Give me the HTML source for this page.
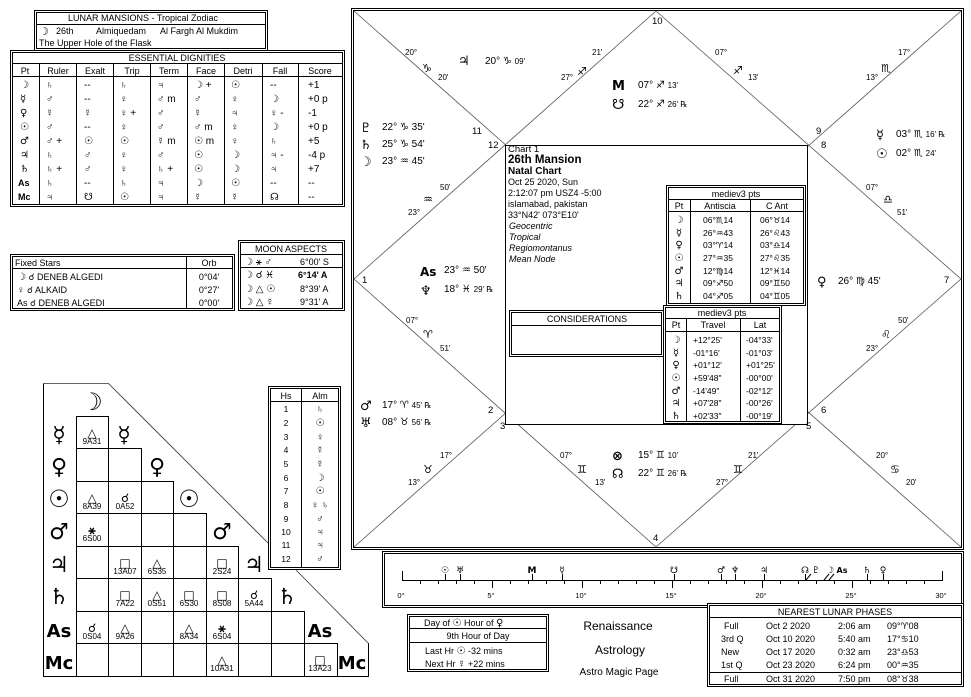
<!DOCTYPE html>
<html><head><meta charset="utf-8"><style>
body{margin:0;background:#fff;width:971px;height:697px;overflow:hidden}
svg{position:absolute;left:0;top:0;font-size:9.5px;font-family:"Liberation Sans","DejaVu Sans",sans-serif}
text{fill:#000}
.b{font-weight:bold}
.g{font-family:"DejaVu Sans",sans-serif;font-weight:bold}
.s{font-size:8px}
.o{fill:#c07020;font-size:7.5px}
</style></head><body>
<svg width="971" height="697" viewBox="0 0 971 697" stroke="#000" fill="none" stroke-width="1">
<!-- ===== Chart frame ===== -->
<rect x="351.5" y="8.5" width="612" height="541" stroke-width="1"/>
<rect x="353.5" y="10.5" width="608" height="537"/>
<g stroke="#555" stroke-width="0.8">
<line x1="354" y1="11" x2="961" y2="547"/>
<line x1="961" y1="11" x2="354" y2="547"/>
<polyline points="656,11 961,279 656,547 354,279 656,11"/>
</g>
<rect x="505.5" y="145.5" width="302" height="279" fill="#fff"/>
<g stroke="none" fill="#000">
<text x="652" y="24">10</text><text x="472" y="134">11</text><text x="488" y="148">12</text>
<text x="816" y="134">9</text><text x="821" y="148">8</text><text x="362" y="283">1</text><text x="944" y="283">7</text>
<text x="488" y="413">2</text><text x="500" y="429">3</text><text x="821" y="413">6</text><text x="806" y="429">5</text><text x="653" y="541">4</text>
<text x="405" y="55" class="s">20°</text><text x="422" y="72" font-size="11">♑</text><text x="438" y="80" class="s">20'</text>
<text x="458" y="65" class="g" font-size="13">♃</text><text x="485" y="64" font-size="10">20° ♑ <tspan class="s">09'</tspan></text>
<text x="592" y="55" class="s">21'</text><text x="577" y="75" font-size="11">♐</text><text x="561" y="80" class="s">27°</text>
<text x="612" y="90" class="g" font-size="13">M</text><text x="638" y="88" font-size="10">07°  ♐  <tspan class="s">13'</tspan></text>
<text x="612" y="109" class="g" font-size="14">☋</text><text x="638" y="107" font-size="10">22°  ♐  <tspan class="s">26' ℞</tspan></text>
<text x="715" y="55" class="s">07°</text><text x="733" y="74" font-size="11">♐</text><text x="748" y="80" class="s">13'</text>
<text x="898" y="55" class="s">17°</text><text x="881" y="72" font-size="11">♏</text><text x="866" y="80" class="s">13°</text>
<text x="360" y="132" class="g" font-size="13">♇</text><text x="382" y="130" font-size="10">22° ♑ 35'</text>
<text x="360" y="149" class="g" font-size="13">♄</text><text x="382" y="147" font-size="10">25° ♑ 54'</text>
<text x="360" y="166" class="g" font-size="13">☽</text><text x="382" y="164" font-size="10">23° ♒ 45'</text>
<text x="440" y="190" class="s">50'</text><text x="423" y="203" font-size="11">♒</text><text x="408" y="215" class="s">23°</text>
<text x="876" y="139" class="g" font-size="13">☿</text><text x="896" y="137" font-size="10">03° ♏ <tspan class="s">16' ℞</tspan></text>
<text x="876" y="158" class="g" font-size="13">☉</text><text x="896" y="156" font-size="10">02° ♏ <tspan class="s">24'</tspan></text>
<text x="866" y="190" class="s">07°</text><text x="883" y="203" font-size="11">♎</text><text x="897" y="215" class="s">51'</text>
<text x="420" y="276" class="g" font-size="12">As</text><text x="444" y="273" font-size="10">23° ♒ 50'</text>
<text x="420" y="295" class="g" font-size="13">♆</text><text x="444" y="292" font-size="10">18° ♓ <tspan class="s">29' ℞</tspan></text>
<text x="817" y="286" class="g" font-size="13">♀</text><text x="838" y="284" font-size="10">26° ♍ 45'</text>
<text x="406" y="323" class="s">07°</text><text x="423" y="338" font-size="11">♈</text><text x="440" y="351" class="s">51'</text>
<text x="898" y="323" class="s">50'</text><text x="881" y="338" font-size="11">♌</text><text x="866" y="351" class="s">23°</text>
<text x="360" y="410" class="g" font-size="13">♂</text><text x="382" y="408" font-size="10">17° ♈ <tspan class="s">45' ℞</tspan></text>
<text x="360" y="427" class="g" font-size="13">♅</text><text x="382" y="425" font-size="10">08° ♉ <tspan class="s">56' ℞</tspan></text>
<text x="440" y="458" class="s">17°</text><text x="423" y="473" font-size="11">♉</text><text x="408" y="485" class="s">13°</text>
<text x="560" y="458" class="s">07°</text><text x="577" y="473" font-size="11">♊</text><text x="595" y="485" class="s">13'</text>
<text x="612" y="460" class="g" font-size="13">⊗</text><text x="638" y="458" font-size="10">15°  ♊  <tspan class="s">10'</tspan></text>
<text x="612" y="478" class="g" font-size="13">☊</text><text x="638" y="476" font-size="10">22°  ♊  <tspan class="s">26' ℞</tspan></text>
<text x="748" y="458" class="s">21'</text><text x="733" y="473" font-size="11">♊</text><text x="716" y="485" class="s">27°</text>
<text x="876" y="458" class="s">20°</text><text x="890" y="473" font-size="11">♋</text><text x="906" y="485" class="s">20'</text>
<text x="508" y="152">Chart 1</text>
<text x="508" y="163" class="b" font-size="11.5">26th Mansion</text>
<text x="508" y="174" class="b" font-size="10">Natal Chart</text>
<text x="508" y="185" font-size="9">Oct 25 2020, Sun</text>
<text x="508" y="196" font-size="9">2:12:07 pm  USZ4 -5:00</text>
<text x="508" y="207" font-size="9">islamabad, pakistan</text>
<text x="508" y="218" font-size="9">33°N42' 073°E10'</text>
<text x="509" y="229" font-size="9" font-style="italic">Geocentric</text>
<text x="509" y="240" font-size="9" font-style="italic">Tropical</text>
<text x="509" y="251" font-size="9" font-style="italic">Regiomontanus</text>
<text x="509" y="262" font-size="9" font-style="italic">Mean Node</text>
</g>
<!-- antiscia table -->
<rect x="666.5" y="185.5" width="139" height="120" fill="#fff"/><rect x="668.5" y="187.5" width="135" height="116"/>
<line x1="668" y1="199.5" x2="804" y2="199.5"/><line x1="668" y1="211.5" x2="804" y2="211.5"/>
<line x1="690.5" y1="200" x2="690.5" y2="304"/><line x1="750.5" y1="200" x2="750.5" y2="304"/>
<g stroke="none" fill="#000" font-size="9">
<text x="736" y="197" text-anchor="middle">mediev3 pts</text>
<text x="679" y="209" text-anchor="middle">Pt</text><text x="720" y="209" text-anchor="middle">Antiscia</text><text x="777" y="209" text-anchor="middle">C Ant</text>
<g class="g" font-size="10" text-anchor="middle"><text x="679" y="223">☽</text><text x="679" y="236">☿</text><text x="679" y="248">♀</text><text x="679" y="261">☉</text><text x="679" y="274">♂</text><text x="679" y="286">♃</text><text x="679" y="299">♄</text></g>
<g font-size="8.5"><text x="703" y="223">06°♏14</text><text x="703" y="236">26°♒43</text><text x="703" y="248">03°♈14</text><text x="703" y="261">27°♒35</text><text x="703" y="274">12°♍14</text><text x="703" y="286">09°♐50</text><text x="703" y="299">04°♐05</text>
<text x="760" y="223">06°♉14</text><text x="760" y="236">26°♌43</text><text x="760" y="248">03°♎14</text><text x="760" y="261">27°♌35</text><text x="760" y="274">12°♓14</text><text x="760" y="286">09°♊50</text><text x="760" y="299">04°♊05</text></g>
</g>
<!-- considerations -->
<rect x="509.5" y="310.5" width="154" height="46" fill="#fff"/><rect x="511.5" y="312.5" width="150" height="42"/>
<line x1="512" y1="325.5" x2="662" y2="325.5"/>
<text x="587" y="322" text-anchor="middle" stroke="none" fill="#000" font-size="9">CONSIDERATIONS</text>
<!-- travel table -->
<rect x="663.5" y="305.5" width="118" height="118" fill="#fff"/><rect x="665.5" y="307.5" width="114" height="114"/>
<line x1="666" y1="318.5" x2="780" y2="318.5"/><line x1="666" y1="331.5" x2="780" y2="331.5"/>
<line x1="686.5" y1="319" x2="686.5" y2="422"/><line x1="740.5" y1="319" x2="740.5" y2="422"/>
<g stroke="none" fill="#000" font-size="9">
<text x="722" y="316" text-anchor="middle">mediev3 pts</text>
<text x="676" y="328" text-anchor="middle">Pt</text><text x="713" y="328" text-anchor="middle">Travel</text><text x="760" y="328" text-anchor="middle">Lat</text>
<g class="g" font-size="10" text-anchor="middle"><text x="676" y="343">☽</text><text x="676" y="356">☿</text><text x="676" y="368">♀</text><text x="676" y="381">☉</text><text x="676" y="394">♂</text><text x="676" y="406">♃</text><text x="676" y="419">♄</text></g>
<g font-size="8.5"><text x="693" y="343">+12°25'</text><text x="693" y="356">-01°16'</text><text x="693" y="368">+01°12'</text><text x="693" y="381">+59'48"</text><text x="693" y="394">-14'49"</text><text x="693" y="406">+07'28"</text><text x="693" y="419">+02'33"</text>
<text x="746" y="343">-04°33'</text><text x="746" y="356">-01°03'</text><text x="746" y="368">+01°25'</text><text x="746" y="381">-00°00'</text><text x="746" y="394">-02°12'</text><text x="746" y="406">-00°26'</text><text x="746" y="419">-00°19'</text></g>
</g>

<!-- ===== Lunar mansions ===== -->
<rect x="34.5" y="10.5" width="233" height="40"/><rect x="36.5" y="12.5" width="229" height="36"/>
<line x1="37" y1="24.5" x2="265" y2="24.5"/>
<g stroke="none" fill="#000" font-size="9">
<text x="143" y="21" text-anchor="middle">LUNAR MANSIONS - Tropical Zodiac</text>
<text x="39" y="35" class="g" font-size="11">☽</text><text x="56" y="34">26th</text><text x="96" y="34">Almiquedam</text><text x="160" y="34">Al Fargh Al Mukdim</text>
<text x="39" y="46">The Upper Hole of the Flask</text>
</g>
<!-- ===== Essential dignities ===== -->
<rect x="10.5" y="50.5" width="334" height="156" fill="#fff"/><rect x="12.5" y="52.5" width="330" height="152"/>
<line x1="13" y1="63.5" x2="342" y2="63.5"/><line x1="13" y1="76.5" x2="342" y2="76.5"/>
<g><line x1="39.5" y1="64" x2="39.5" y2="204"/><line x1="76.5" y1="64" x2="76.5" y2="204"/><line x1="113.5" y1="64" x2="113.5" y2="204"/><line x1="150.5" y1="64" x2="150.5" y2="204"/><line x1="187.5" y1="64" x2="187.5" y2="204"/><line x1="224.5" y1="64" x2="224.5" y2="204"/><line x1="262.5" y1="64" x2="262.5" y2="204"/><line x1="298.5" y1="64" x2="298.5" y2="204"/></g>
<g stroke="none" fill="#000" font-size="9">
<text x="177" y="61" text-anchor="middle">ESSENTIAL DIGNITIES</text>
<g text-anchor="middle"><text x="25" y="74">Pt</text><text x="58" y="74">Ruler</text><text x="95" y="74">Exalt</text><text x="132" y="74">Trip</text><text x="169" y="74">Term</text><text x="206" y="74">Face</text><text x="243" y="74">Detri</text><text x="280" y="74">Fall</text><text x="320" y="74">Score</text></g>
<g font-size="10">
<g transform="translate(0,88)"><text x="20" class="g">☽</text><text x="46">♄</text><text x="84">--</text><text x="120">♄</text><text x="157">♃</text><text x="194">☽ +</text><text x="231">☉</text><text x="270">--</text><text x="308">+1</text></g>
<g transform="translate(0,102)"><text x="20" class="g">☿</text><text x="46">♂</text><text x="84">--</text><text x="120">♀</text><text x="157">♂  m</text><text x="194">♂</text><text x="231">♀</text><text x="270">☽</text><text x="308">+0  p</text></g>
<g transform="translate(0,116)"><text x="20" class="g">♀</text><text x="46">☿</text><text x="84">☿</text><text x="120">♀ +</text><text x="157">♂</text><text x="194">☿</text><text x="231">♃</text><text x="270">♀   -</text><text x="308">-1</text></g>
<g transform="translate(0,130)"><text x="20" class="g">☉</text><text x="46">♂</text><text x="84">--</text><text x="120">♀</text><text x="157">♂</text><text x="194">♂  m</text><text x="231">♀</text><text x="270">☽</text><text x="308">+0  p</text></g>
<g transform="translate(0,144)"><text x="20" class="g">♂</text><text x="46">♂ +</text><text x="84">☉</text><text x="120">☉</text><text x="157">☿  m</text><text x="194">☉  m</text><text x="231">♀</text><text x="270">♄</text><text x="308">+5</text></g>
<g transform="translate(0,158)"><text x="20" class="g">♃</text><text x="46">♄</text><text x="84">♂</text><text x="120">♀</text><text x="157">♂</text><text x="194">☉</text><text x="231">☽</text><text x="270">♃   -</text><text x="308">-4  p</text></g>
<g transform="translate(0,172)"><text x="20" class="g">♄</text><text x="46">♄ +</text><text x="84">♂</text><text x="120">♀</text><text x="157">♄ +</text><text x="194">☉</text><text x="231">☽</text><text x="270">♃</text><text x="308">+7</text></g>
<g transform="translate(0,186)"><text x="18" class="b" font-size="9">As</text><text x="46">♄</text><text x="84">--</text><text x="120">♄</text><text x="157">♃</text><text x="194">☽</text><text x="231">☉</text><text x="270">--</text><text x="308">--</text></g>
<g transform="translate(0,200)"><text x="18" class="b" font-size="9">Mc</text><text x="46">♃</text><text x="84">☋</text><text x="120">☉</text><text x="157">♃</text><text x="194">☿</text><text x="231">☿</text><text x="270">☊</text><text x="308">--</text></g>
</g></g>
<!-- ===== Fixed stars ===== -->
<rect x="10.5" y="254.5" width="224" height="56"/><rect x="12.5" y="256.5" width="220" height="52"/>
<line x1="13" y1="268.5" x2="232" y2="268.5"/><line x1="186.5" y1="257" x2="186.5" y2="308"/>
<g stroke="none" fill="#000" font-size="9">
<text x="15" y="266">Fixed Stars</text><text x="209" y="266" text-anchor="middle">Orb</text>
<text x="17" y="280"><tspan font-size="10">☽</tspan>   ☌   DENEB ALGEDI</text><text x="209" y="280" text-anchor="middle">0°04'</text>
<text x="17" y="293"><tspan font-size="10">♀</tspan>   ☌   ALKAID</text><text x="209" y="293" text-anchor="middle">0°27'</text>
<text x="17" y="306">As  ☌   DENEB ALGEDI</text><text x="209" y="306" text-anchor="middle">0°00'</text>
</g>
<!-- ===== Moon aspects ===== -->
<rect x="238.5" y="240.5" width="106" height="70"/><rect x="240.5" y="242.5" width="102" height="66"/>
<line x1="241" y1="254.5" x2="342" y2="254.5"/><line x1="241" y1="267.5" x2="342" y2="267.5"/>
<g stroke="none" fill="#000" font-size="9">
<text x="291" y="252" text-anchor="middle">MOON ASPECTS</text>
<text x="244" y="265" font-size="10">☽  ⚹  ♂</text><text x="300" y="265">6°00' S</text>
<text x="244" y="278" font-size="10">☽  ☌  ♓</text><text x="298" y="278" class="b">6°14' A</text>
<text x="244" y="292" font-size="10">☽  △  ☉</text><text x="300" y="292">8°39' A</text>
<text x="244" y="305" font-size="10">☽  △  ☿</text><text x="300" y="305">9°31' A</text>
</g>
<!-- ===== Hs / Alm ===== -->
<rect x="268.5" y="386.5" width="72" height="183"/><rect x="270.5" y="388.5" width="68" height="179"/>
<line x1="271" y1="401.5" x2="339" y2="401.5"/><line x1="301.5" y1="389" x2="301.5" y2="567"/>
<g stroke="none" fill="#000" font-size="9" text-anchor="middle">
<text x="286" y="399">Hs</text><text x="320" y="399">Alm</text>
<g font-size="8.5"><text x="286" y="412">1</text><text x="286" y="426">2</text><text x="286" y="440">3</text><text x="286" y="453">4</text><text x="286" y="467">5</text><text x="286" y="481">6</text><text x="286" y="494">7</text><text x="286" y="508">8</text><text x="286" y="522">9</text><text x="286" y="535">10</text><text x="286" y="548">11</text><text x="286" y="562">12</text></g>
<g font-size="10"><text x="320" y="412">♄</text><text x="320" y="426">☉</text><text x="320" y="440">♀</text><text x="320" y="453">☿</text><text x="320" y="467">☿</text><text x="320" y="481">☽</text><text x="320" y="494">☉</text><text x="320" y="508">♀ ♄</text><text x="320" y="522">♂</text><text x="320" y="535">♃</text><text x="320" y="548">♃</text><text x="320" y="562">♂</text></g>
</g>
<!-- ===== Aspect grid ===== -->
<polyline points="43.5,383.5 108.5,383.5 268,543" stroke="#333" stroke-width="0.8"/>
<line x1="296" y1="570" x2="368" y2="643" stroke="#333" stroke-width="0.8"/>
<polyline points="43.5,383.5 43.5,676.5 368.5,676.5 368.5,643"/>
<g>
<line x1="76.5" y1="416" x2="76.5" y2="676"/>
<polyline points="76,416.5 108.5,416.5 108.5,676"/>
<polyline points="76,448.5 141.5,448.5 141.5,676"/>
<polyline points="76,481.5 173.5,481.5 173.5,676"/>
<polyline points="76,513.5 206.5,513.5 206.5,676"/>
<polyline points="76,546.5 238.5,546.5 238.5,676"/>
<polyline points="76,578.5 271.5,578.5 271.5,676"/>
<polyline points="76,611.5 304.5,611.5 304.5,676"/>
<polyline points="76,643.5 337.5,643.5 337.5,676"/>
</g>
<g stroke="none" fill="#000" class="g" text-anchor="middle">
<text x="92" y="410" font-size="24">☽</text>
<text x="59" y="442" font-size="22">☿</text><text x="124" y="442" font-size="22">☿</text>
<text x="59" y="474" font-size="22">♀</text><text x="157" y="474" font-size="22">♀</text>
<text x="59" y="507" font-size="24">☉</text><text x="189" y="507" font-size="24">☉</text>
<text x="59" y="539" font-size="22">♂</text><text x="222" y="539" font-size="22">♂</text>
<text x="59" y="572" font-size="22">♃</text><text x="254" y="572" font-size="22">♃</text>
<text x="59" y="604" font-size="22">♄</text><text x="287" y="604" font-size="22">♄</text>
<text x="59" y="637" font-size="18">As</text><text x="320" y="637" font-size="18">As</text>
<text x="59" y="669" font-size="18">Mc</text><text x="352" y="669" font-size="18">Mc</text>
</g>
<g stroke="none" fill="#000" text-anchor="middle" font-size="8">
<g font-size="12" class="g">
<text x="92" y="437">△</text>
<text x="92" y="502">△</text><text x="125" y="502">☌</text>
<text x="92" y="534">⚹</text>
<text x="125" y="567">□</text><text x="157" y="567">△</text><text x="222" y="567">□</text>
<text x="125" y="599">□</text><text x="157" y="599">△</text><text x="189" y="599">□</text><text x="222" y="599">□</text><text x="254" y="599">☌</text>
<text x="92" y="632">☌</text><text x="125" y="632">△</text><text x="189" y="632">△</text><text x="222" y="632">⚹</text>
<text x="222" y="664">△</text><text x="320" y="664">□</text>
</g>
<text x="92" y="444">9A31</text>
<text x="92" y="509">8A39</text><text x="125" y="509">0A52</text>
<text x="92" y="541">6S00</text>
<text x="125" y="574">13A07</text><text x="157" y="574">6S35</text><text x="222" y="574">2S24</text>
<text x="125" y="606">7A22</text><text x="157" y="606">0S51</text><text x="189" y="606">6S30</text><text x="222" y="606">8S08</text><text x="254" y="606">5A44</text>
<text x="92" y="639">0S04</text><text x="125" y="639">9A26</text><text x="189" y="639">8A34</text><text x="222" y="639">6S04</text>
<text x="222" y="671">10A31</text><text x="320" y="671">13A23</text>
</g>
<!-- ===== Ruler strip ===== -->
<rect x="382.5" y="551.5" width="581" height="56"/><rect x="384.5" y="553.5" width="577" height="52"/>
<line x1="402" y1="580.5" x2="942" y2="580.5"/>
<line x1="402.5" y1="571" x2="402.5" y2="581"/><line x1="942.5" y1="571" x2="942.5" y2="581"/>
<path d="M420.5 580v4M438.5 580v4M456.5 580v4M474.5 580v4M492.5 580v8M510.5 580v4M528.5 580v4M546.5 580v4M564.5 580v4M582.5 580v8M600.5 580v4M618.5 580v4M636.5 580v4M654.5 580v4M672.5 580v8M690.5 580v4M708.5 580v4M726.5 580v4M744.5 580v4M762.5 580v8M780.5 580v4M798.5 580v4M816.5 580v4M834.5 580v4M852.5 580v8M870.5 580v4M888.5 580v4M906.5 580v4M924.5 580v4"/>
<path d="M445.5 574v6M460.5 574v6M532.5 574v6M562.5 574v6M674.5 574v6M721.5 574v6M735.5 574v6M764.5 574v6M805.5 574v6M811 574l-5 6M829 574l-5 6M834 574l-5 6M867.5 574v6M883.5 574v6"/>
<g stroke="none">
<g class="o" text-anchor="middle"><text x="401" y="598">0°</text><text x="491" y="598">5°</text><text x="581" y="598">10°</text><text x="671" y="598">15°</text><text x="761" y="598">20°</text><text x="851" y="598">25°</text><text x="941" y="598">30°</text></g>
<g class="g" text-anchor="middle" font-size="9" fill="#000">
<text x="445" y="573">☉</text><text x="460" y="573">♅</text><text x="532" y="573">M</text><text x="562" y="573">☿</text><text x="674" y="573">☋</text><text x="721" y="573">♂</text><text x="735" y="573">♆</text><text x="764" y="573">♃</text><text x="805" y="573">☊</text><text x="816" y="573">♇</text><text x="830" y="573">☽</text><text x="842" y="573" font-size="8">As</text><text x="867" y="573">♄</text><text x="883" y="573">♀</text>
</g></g>
<!-- ===== Day of box ===== -->
<rect x="407.5" y="614.5" width="141" height="57"/><rect x="409.5" y="616.5" width="137" height="53"/>
<line x1="410" y1="628.5" x2="546" y2="628.5"/><line x1="410" y1="642.5" x2="546" y2="642.5"/>
<g stroke="none" fill="#000" font-size="9">
<text x="424" y="626">Day of <tspan class="g" font-size="10">☉</tspan>    Hour of <tspan class="g" font-size="10">♀</tspan></text>
<text x="478" y="639" text-anchor="middle">9th Hour of Day</text>
<text x="425" y="654">Last Hr  <tspan font-size="10">☉</tspan>  -32 mins</text>
<text x="425" y="667">Next Hr  <tspan font-size="10">☿</tspan>  +22 mins</text>
<text x="618" y="630" text-anchor="middle" font-size="12">Renaissance</text>
<text x="620" y="654" text-anchor="middle" font-size="12">Astrology</text>
<text x="619" y="675" text-anchor="middle" font-size="10">Astro Magic Page</text>
</g>
<!-- ===== Lunar phases ===== -->
<rect x="707.5" y="603.5" width="256" height="83" fill="#fff"/><rect x="709.5" y="605.5" width="252" height="79"/>
<line x1="710" y1="617.5" x2="961" y2="617.5"/><line x1="710" y1="672.5" x2="961" y2="672.5"/>
<g stroke="none" fill="#000" font-size="9">
<text x="835" y="615" text-anchor="middle">NEAREST LUNAR PHASES</text>
<text x="724" y="629">Full</text><text x="766" y="629">Oct 2 2020</text><text x="838" y="629">2:06 am</text><text x="887" y="629">09°♈08</text>
<text x="721" y="642">3rd Q</text><text x="766" y="642">Oct 10 2020</text><text x="838" y="642">5:40 am</text><text x="887" y="642">17°♋10</text>
<text x="721" y="655">New</text><text x="766" y="655">Oct 17 2020</text><text x="838" y="655">0:32 am</text><text x="887" y="655">23°♎53</text>
<text x="721" y="668">1st Q</text><text x="766" y="668">Oct 23 2020</text><text x="838" y="668">6:24 pm</text><text x="887" y="668">00°♒35</text>
<text x="724" y="682">Full</text><text x="766" y="682">Oct 31 2020</text><text x="838" y="682">7:50 pm</text><text x="887" y="682">08°♉38</text>
</g>
</svg>
</body></html>
